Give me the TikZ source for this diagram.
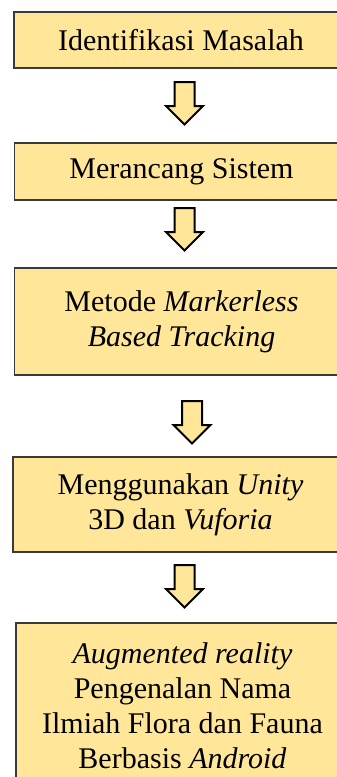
\documentclass[tikz,border=0pt]{standalone}
\usepackage{fontspec}
\setmainfont{Liberation Serif}
\usepackage{xcolor}
\usepackage{tikz}
\usetikzlibrary{positioning,calc}
\definecolor{cGold}{HTML}{FFE699}
\definecolor{cEdge}{HTML}{3A3A3A}
\tikzset{
  stepbox/.style={draw=cEdge,fill=cGold,line width=0.8pt,align=center,inner sep=0pt,
    minimum width=167pt,font=\fontsize{15pt}{17.5pt}\selectfont},
  blkarr/.style={draw=black,fill=cGold,line width=1pt,line join=miter},
}
% block arrow hanging down from a named top point (units: px)
\newcommand{\blockarr}[1]{\draw[blkarr] (#1) ++(-10,0) -- ++(20,0) -- ++(0,24) -- ++(8.5,0)
  -- ++(-18.5,18.5) -- ++(-18.5,-18.5) -- ++(8.5,0) -- cycle;}

\begin{document}
\begin{tikzpicture}[x=0.5pt,y=-0.5pt]
    \useasboundingbox (0,0) rectangle (337,777);
    \clip (0,0) rectangle (337,777);
    \node[stepbox,minimum height=28pt]   (b1) at (181,40)    {Identifikasi Masalah};
    \node[stepbox,minimum height=28.5pt] (b2) at (181.5,171.5) {Merancang Sistem};
    \node[stepbox,minimum height=53.5pt] (b3) at (181.5,321.5) {Metode \textit{Markerless}\\ \textit{Based Tracking}};
    \node[stepbox,minimum height=47.5pt,minimum width=167.5pt] (b4) at (180.5,504.5) {Menggunakan \textit{Unity}\\ 3D dan \textit{Vuforia}};
    \node[stepbox,minimum height=83pt,minimum width=166.5pt] (b5) at (182.5,706)
      {\textit{Augmented reality}\\ Pengenalan Nama\\ Ilmiah Flora dan Fauna\\ Berbasis \textit{Android}};
    % arrows between the steps
    \coordinate (a1) at (184.5,82);
    \coordinate (a2) at (184.5,208);
    \coordinate (a3) at (192,401);
    \coordinate (a4) at (184.5,565);
    \blockarr{a1}
    \blockarr{a2}
    \blockarr{a3}
    \blockarr{a4}
  \end{tikzpicture}
\end{document}
